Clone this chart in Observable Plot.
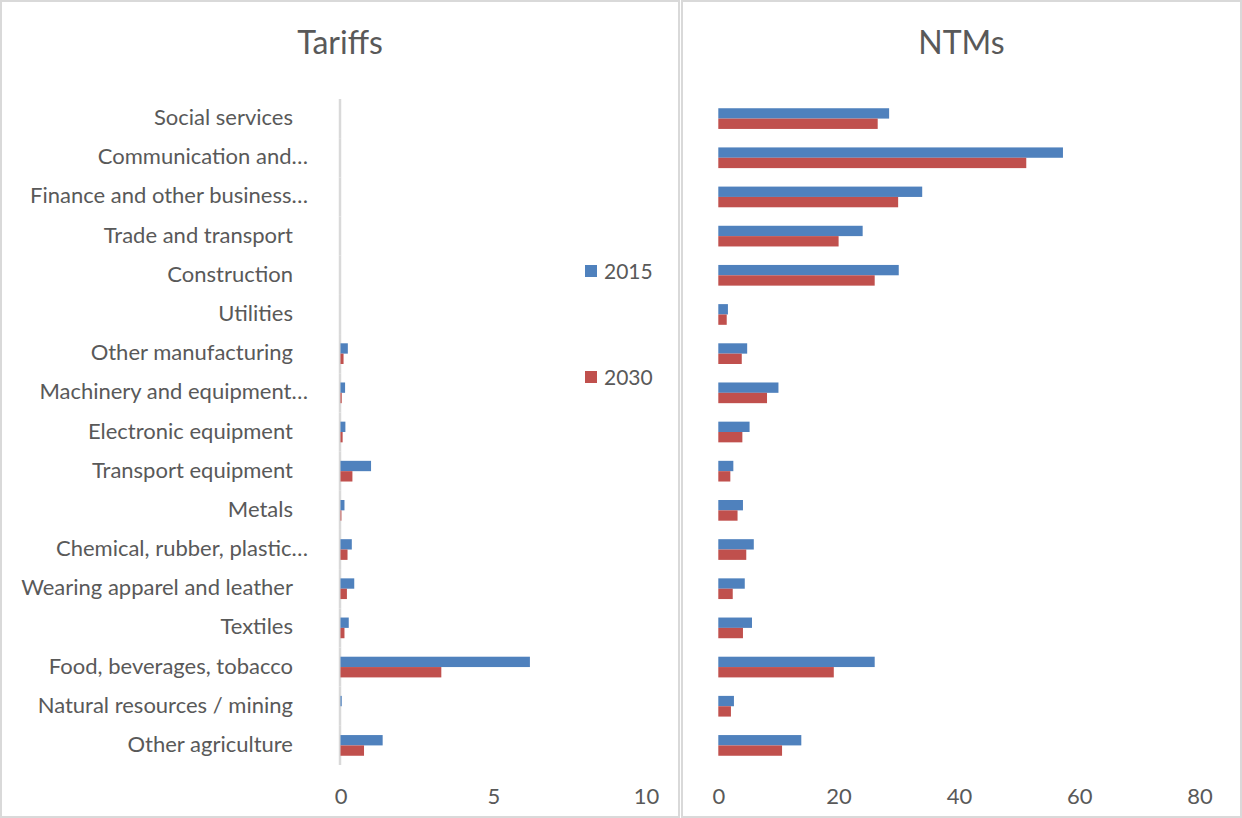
<!DOCTYPE html>
<html>
<head>
<meta charset="utf-8">
<script src="https://cdn.jsdelivr.net/npm/d3@7"></script>
<script src="https://cdn.jsdelivr.net/npm/@observablehq/plot@0.6"></script>
<style>
  html, body { margin: 0; padding: 0; background: #fff; }
  #wrap { position: relative; width: 1242px; height: 818px; overflow: hidden; font-family: Lato, "Open Sans", sans-serif; color: #595959; }
  .panel { position: absolute; top: 0; height: 818px; box-sizing: border-box; border: 2px solid #d9d9d9; }
  .title { position: absolute; top: 22px; font-size: 32px; text-align: center; color: #595959; }
  .chart { position: absolute; top: 0; }
  .leg { position: absolute; font-size: 21px; line-height: 24px; display: flex; align-items: center; color: #595959; }
  .sw { width: 12px; height: 12px; margin-right: 7px; }
</style>
</head>
<body>
<div id="wrap">
  <div class="panel" style="left:0;width:680px;"></div>
  <div class="panel" style="left:681px;width:561px;"></div>
  <div class="title" style="left:0;width:680px;">Tariffs</div>
  <div class="title" style="left:681px;width:561px;">NTMs</div>
  <div id="left" class="chart" style="left:0;"></div>
  <div id="right" class="chart" style="left:681px;"></div>
  <div class="leg" style="left:585px;top:259px;"><div class="sw" style="background:#4F81BD"></div>2015</div>
  <div class="leg" style="left:585px;top:365px;"><div class="sw" style="background:#C0504D"></div>2030</div>
</div>
<script>
const categories = ["Social services", "Communication and…", "Finance and other business…", "Trade and transport", "Construction", "Utilities", "Other manufacturing", "Machinery and equipment…", "Electronic equipment", "Transport equipment", "Metals", "Chemical, rubber, plastic…", "Wearing apparel and leather", "Textiles", "Food, beverages, tobacco", "Natural resources / mining", "Other agriculture"];
const years = ["2015", "2030"];
const tariffs2015 = [0, 0, 0, 0, 0, 0, 0.24, 0.15, 0.16, 1.0, 0.13, 0.37, 0.45, 0.27, 6.2, 0.04, 1.38];
const tariffs2030 = [0, 0, 0, 0, 0, 0, 0.1, 0.04, 0.07, 0.39, 0.03, 0.23, 0.21, 0.13, 3.3, 0, 0.77];
const ntm2015 = [28.4, 57.3, 33.9, 24.0, 30.0, 1.6, 4.8, 10.0, 5.2, 2.5, 4.1, 5.9, 4.4, 5.6, 26.0, 2.6, 13.8];
const ntm2030 = [26.5, 51.2, 29.9, 20.0, 26.0, 1.4, 3.9, 8.1, 4.0, 2.0, 3.2, 4.65, 2.4, 4.1, 19.2, 2.1, 10.6];
const tariffTicks = [0, 5, 10];
const ntmTicks = [0, 20, 40, 60, 80];
const colors = ["#4F81BD", "#C0504D"];

function rows(a, b) {
  const out = [];
  categories.forEach((c, i) => {
    out.push({cat: c, year: years[0], value: a[i]});
    out.push({cat: c, year: years[1], value: b[i]});
  });
  return out;
}

function chart({data, domain, ticks, width, marginLeft, marginRight, withLabels}) {
  const marks = [
    Plot.barX(data, {fy: "cat", y: "year", x: "value", fill: "year"})
  ];
  if (withLabels) {
    marks.unshift(Plot.ruleX([0], {stroke: "#d9d9d9", strokeWidth: 2.5, dx: -1}));
    const plain = categories.filter(c => !c.endsWith("…"));
    const trunc = categories.filter(c => c.endsWith("…"));
    marks.push(Plot.text(plain, {fy: d => d, text: d => d, frameAnchor: "left", textAnchor: "end", dx: -48, dy: -1, fontSize: 22, fill: "#595959"}));
    marks.push(Plot.text(trunc, {fy: d => d, text: d => d, frameAnchor: "left", textAnchor: "end", dx: -33, dy: -1, fontSize: 22, fill: "#595959"}));
  }
  return Plot.plot({
    width, height: 818,
    marginLeft, marginRight, marginTop: 99, marginBottom: 53,
    style: {fontFamily: "Lato, 'Open Sans', sans-serif", color: "#595959", background: "transparent", overflow: "visible"},
    x: {domain, ticks, tickSize: 0, tickPadding: 23, label: null, fontSize: 22},
    fy: {domain: categories, padding: 0, round: false, axis: null, label: null},
    y: {domain: years, paddingInner: 0, paddingOuter: 0.893, round: false, axis: null, label: null},
    color: {domain: years, range: colors},
    marks
  });
}

const left = chart({data: rows(tariffs2015, tariffs2030), domain: [0, 10], ticks: tariffTicks, width: 680, marginLeft: 340.5, marginRight: 34, withLabels: true});
const right = chart({data: rows(ntm2015, ntm2030), domain: [0, 80], ticks: ntmTicks, width: 561, marginLeft: 37.3, marginRight: 42.5, withLabels: false});
document.getElementById("left").appendChild(left);
document.getElementById("right").appendChild(right);
document.querySelectorAll("svg g[aria-label='x-axis tick label']").forEach(g => g.setAttribute("font-size", 22));
</script>
</body>
</html>
